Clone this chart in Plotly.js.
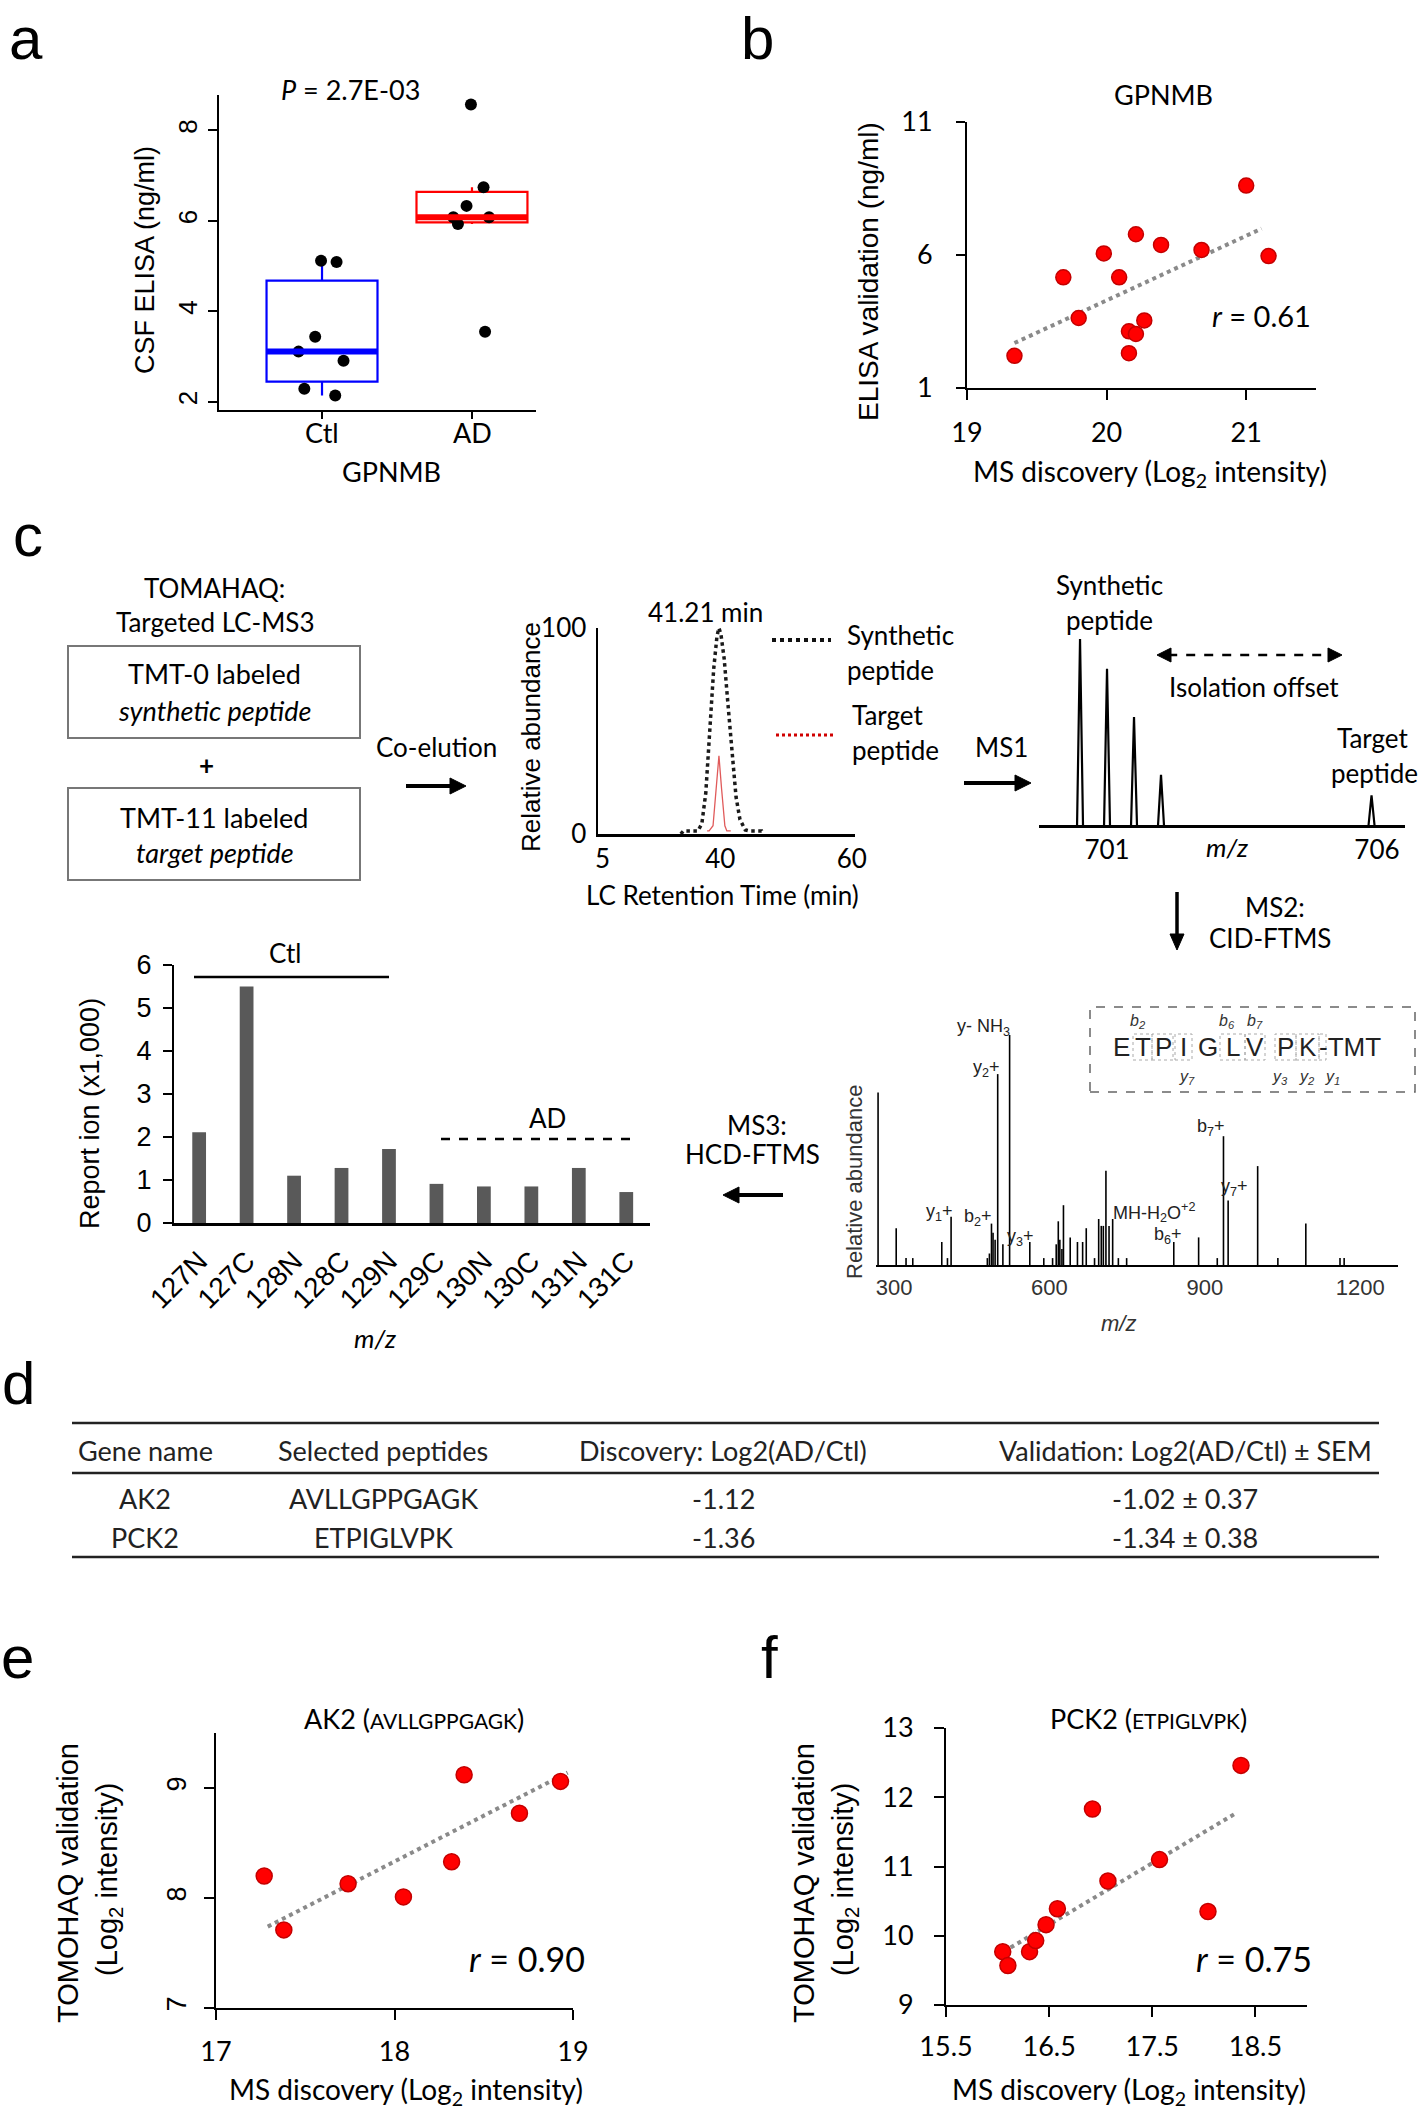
<!DOCTYPE html>
<html><head><meta charset="utf-8">
<script src="https://cdn.plot.ly/plotly-3.0.1.min.js"></script>
<style>html,body{margin:0;padding:0;background:#fff;}#fig{width:1418px;height:2109px;}</style>
</head><body><div id="fig"></div>
<script>
// ================= DATA =================
// (a) CSF ELISA GPNMB
const groupNames = ['Ctl', 'AD'];
const ctlElisa = [5.12, 5.09, 3.44, 3.11, 2.91, 2.29, 2.14];
const adElisa = [8.57, 6.74, 6.33, 6.08, 6.08, 5.93, 3.55];
// (b) GPNMB MS discovery vs ELISA
const bDiscovery = [19.34, 19.69, 19.80, 19.98, 20.09, 20.21, 20.16, 20.21, 20.27, 20.16, 20.39, 20.68, 21.00, 21.16];
const bElisa = [2.21, 5.16, 3.63, 6.06, 5.16, 6.78, 3.13, 3.03, 3.54, 2.31, 6.38, 6.19, 8.61, 5.96];
const bFitX = [19.34, 21.11];
const bFitY = [2.69, 6.99];
// (c) chromatogram
const chromTickVals = [22.1, 40, 60];
const chromTickText = ['5', '40', '60'];
const synthTime = [34.0, 34.4, 36.6, 37.2, 37.8, 38.4, 39.0, 39.5, 39.8, 40.1, 40.6, 41.2, 41.8, 42.4, 43.0, 43.8, 44.4, 46.3, 46.5];
const synthAbund = [0, 1.5, 1.5, 5, 20, 48, 80, 96, 100, 97, 85, 62, 38, 18, 7, 2, 1.5, 1.5, 0];
const targetTime = [38.0, 38.3, 38.9, 39.4, 39.8, 40.2, 40.7, 41.0, 41.6];
const targetAbund = [1.5, 1.5, 4, 22, 38, 22, 4, 1.5, 1.5];
// (c) MS1
const ms1Mz = [700.5, 701.0, 701.5, 702.0, 705.9];
const ms1Int = [100, 84, 58, 27, 16];
const ms1TickVals = [701, 706];
// (c) MS3 reporter ions
const reporterChannels = ['127N', '127C', '128N', '128C', '129N', '129C', '130N', '130C', '131N', '131C'];
const reporterValues = [2.11, 5.50, 1.10, 1.28, 1.72, 0.91, 0.85, 0.85, 1.28, 0.72];
// (c) MS2 spectrum
const ms2Mz = [269, 304, 323, 336, 392, 403, 410, 480, 484, 488, 491, 495, 500, 510, 523, 562, 589, 606, 613, 617, 620, 624, 627, 640, 654, 664, 671, 687, 695, 700, 704, 709, 715, 722, 733, 749, 840, 888, 924, 936, 945, 1002, 1041, 1095, 1161, 1169];
const ms2Int = [75, 16, 3, 3, 10, 3, 21, 3, 5, 18, 14, 11, 83, 9, 100, 10, 3, 3, 9, 19, 11, 7, 26, 12, 10, 10, 16, 3, 20, 17, 17, 41, 17, 20, 3, 3, 10, 12, 3, 56, 28, 43, 3, 18, 3, 3];
const ms2TickVals = [300, 600, 900, 1200];
// (d) table
const tableHeader = ['Gene name', 'Selected peptides', 'Discovery: Log2(AD/Ctl)', 'Validation: Log2(AD/Ctl) ± SEM'];
const geneNames = ['AK2', 'PCK2'];
const peptides = ['AVLLGPPGAGK', 'ETPIGLVPK'];
const discoveryLog2 = ['-1.12', '-1.36'];
const validationLog2 = ['-1.02 ± 0.37', '-1.34 ± 0.38'];
// (e) AK2
const eDiscovery = [17.27, 17.38, 17.74, 18.05, 18.32, 18.39, 18.70, 18.93];
const eTomahaq = [8.20, 7.71, 8.13, 8.01, 8.33, 9.12, 8.77, 9.06];
const eFitX = [17.29, 18.97];
const eFitY = [7.74, 9.14];
// (f) PCK2
const fDiscovery = [16.05, 16.10, 16.31, 16.37, 16.47, 16.58, 16.92, 17.07, 17.57, 18.04, 18.36];
const fTomahaq = [9.77, 9.57, 9.77, 9.93, 10.16, 10.39, 11.83, 10.79, 11.10, 10.35, 12.46];
const fFitX = [16.06, 18.30];
const fFitY = [9.77, 11.76];

// ================= HELPERS =================
const W = 1418, H = 2109;
const X = p => p / W;
const Y = p => 1 - p / H;
const domX = (a, b) => [a / W, b / W];
const domY = (top, bot) => [1 - bot / H, 1 - top / H];
const CAL = 'Lato, "Open Sans", sans-serif';
const ARI = '"Liberation Sans", Arial, sans-serif';
const annotations = [];
const shapes = [];
function txt(text, x, y, size, family, o) {
  o = o || {};
  annotations.push({
    text: text, x: X(x), y: Y(y), xref: 'paper', yref: 'paper', showarrow: false,
    xanchor: o.xanchor || 'center', yanchor: o.yanchor || 'middle',
    textangle: o.angle || 0,
    font: {family: family, size: size, color: o.color || '#000'}
  });
}
function seg(x0, y0, x1, y1, w, color, dash) {
  shapes.push({type: 'line', xref: 'paper', yref: 'paper', x0: X(x0), y0: Y(y0), x1: X(x1), y1: Y(y1),
    line: {color: color || '#000', width: w, dash: dash || 'solid'}});
}
function rectP(x0, y0, x1, y1, w, color, dash) {
  shapes.push({type: 'rect', xref: 'paper', yref: 'paper', x0: X(x0), y0: Y(y1), x1: X(x1), y1: Y(y0),
    line: {color: color, width: w, dash: dash || 'solid'}, fillcolor: 'rgba(0,0,0,0)'});
}
function head(xt, yt, ux, uy, len, hw) {
  const bx = xt - ux * len, by = yt - uy * len;
  const px = -uy, py = ux;
  const pts = [[xt, yt], [bx + px * hw, by + py * hw], [bx - px * hw, by - py * hw]];
  const path = 'M ' + pts.map(p => X(p[0]) + ' ' + Y(p[1])).join(' L ') + ' Z';
  shapes.push({type: 'path', xref: 'paper', yref: 'paper', path: path, fillcolor: '#000', line: {color: '#000', width: 1}});
}
function arrow(x0, y0, x1, y1, w, len, hw, dash, both) {
  const L = Math.hypot(x1 - x0, y1 - y0), ux = (x1 - x0) / L, uy = (y1 - y0) / L;
  const sx = both ? x0 + ux * len * 0.8 : x0, sy = both ? y0 + uy * len * 0.8 : y0;
  seg(sx, sy, x1 - ux * len * 0.8, y1 - uy * len * 0.8, w, '#000', dash);
  head(x1, y1, ux, uy, len, hw);
  if (both) head(x0, y0, -ux, -uy, len, hw);
}
function median(a) { const s = a.slice().sort((p, q) => p - q); const n = s.length; return n % 2 ? s[(n - 1) / 2] : (s[n / 2 - 1] + s[n / 2]) / 2; }

// ================= TRACES =================
const traces = [];
const boxW = 0.74;
traces.push({type: 'box', x: ctlElisa.map(() => groupNames[0]), y: ctlElisa, xaxis: 'x', yaxis: 'y',
  boxpoints: 'all', jitter: 0.5, pointpos: 0, width: boxW, whiskerwidth: 0,
  marker: {color: '#000', size: 12}, line: {color: '#0000ff', width: 2.2}, fillcolor: 'rgba(0,0,0,0)', hoverinfo: 'skip'});
traces.push({type: 'box', x: adElisa.map(() => groupNames[1]), y: adElisa, xaxis: 'x', yaxis: 'y',
  boxpoints: 'all', jitter: 0.5, pointpos: 0, width: boxW, whiskerwidth: 0,
  marker: {color: '#000', size: 12}, line: {color: '#ff0000', width: 2.2}, fillcolor: 'rgba(0,0,0,0)', hoverinfo: 'skip'});

const redMarker = s => ({color: '#ff0000', size: s, line: {color: '#c40000', width: 1.5}});
traces.push({type: 'scatter', mode: 'lines', x: bFitX, y: bFitY, xaxis: 'x2', yaxis: 'y2', line: {color: '#8a8a8a', width: 4, dash: 'dot'}});
traces.push({type: 'scatter', mode: 'markers', x: bDiscovery, y: bElisa, xaxis: 'x2', yaxis: 'y2', marker: redMarker(15)});

traces.push({type: 'scatter', mode: 'lines', x: synthTime, y: synthAbund, xaxis: 'x3', yaxis: 'y3', line: {color: '#1a1a1a', width: 3.5, dash: 'dot'}});
traces.push({type: 'scatter', mode: 'lines', x: targetTime, y: targetAbund, xaxis: 'x3', yaxis: 'y3', line: {color: '#e05a5a', width: 1.3}});

const ms1X = [], ms1Y = [];
ms1Mz.forEach((m, i) => { ms1X.push(m - 0.055, m, m + 0.055, null); ms1Y.push(0, ms1Int[i], 0, null); });
traces.push({type: 'scatter', mode: 'lines', x: ms1X, y: ms1Y, xaxis: 'x4', yaxis: 'y4', line: {color: '#000', width: 2.2}});

traces.push({type: 'bar', x: reporterChannels, y: reporterValues, xaxis: 'x5', yaxis: 'y5', marker: {color: '#595959'}});

const ms2X = [], ms2Y = [];
ms2Mz.forEach((m, i) => { ms2X.push(m, m, null); ms2Y.push(0, ms2Int[i], null); });
traces.push({type: 'scatter', mode: 'lines', x: ms2X, y: ms2Y, xaxis: 'x6', yaxis: 'y6', line: {color: '#000', width: 1.6}});

traces.push({type: 'scatter', mode: 'lines', x: eFitX, y: eFitY, xaxis: 'x7', yaxis: 'y7', line: {color: '#8a8a8a', width: 4, dash: 'dot'}});
traces.push({type: 'scatter', mode: 'markers', x: eDiscovery, y: eTomahaq, xaxis: 'x7', yaxis: 'y7', marker: redMarker(16)});
traces.push({type: 'scatter', mode: 'lines', x: fFitX, y: fFitY, xaxis: 'x8', yaxis: 'y8', line: {color: '#8a8a8a', width: 4, dash: 'dot'}});
traces.push({type: 'scatter', mode: 'markers', x: fDiscovery, y: fTomahaq, xaxis: 'x8', yaxis: 'y8', marker: redMarker(16)});

// thick medians (panel a)
[[ctlElisa, '#0000ff', 0], [adElisa, '#ff0000', 1]].forEach(([arr, c, i]) => {
  const m = median(arr);
  shapes.push({type: 'line', xref: 'x', yref: 'y', x0: i - boxW / 2, x1: i + boxW / 2, y0: m, y1: m, line: {color: c, width: 6}});
});

// ================= AXES =================
const base = {showgrid: false, zeroline: false, showline: true, linecolor: '#000', linewidth: 2,
  ticks: 'outside', tickcolor: '#000', tickwidth: 2, fixedrange: true};
const f = (fam, s, c) => ({family: fam, size: s, color: c || '#000'});
const layout = {
  width: W, height: H, margin: {l: 0, r: 0, t: 0, b: 0}, paper_bgcolor: '#fff', plot_bgcolor: 'rgba(0,0,0,0)',
  showlegend: false, bargap: 0.71,
  xaxis: Object.assign({}, base, {domain: domX(219, 536), anchor: 'y', type: 'category', range: [-0.687, 1.427], ticklen: 7, showticklabels: false}),
  yaxis: Object.assign({}, base, {domain: domY(95, 410), anchor: 'x', range: [1.82, 8.78], tickvals: [2, 4, 6, 8], tickangle: -90, ticklen: 9, tickfont: f(ARI, 26), ticklabelstandoff: 1}),
  xaxis2: Object.assign({}, base, {domain: domX(967, 1316), anchor: 'y2', range: [19, 21.5], tickvals: [19, 20, 21], ticklen: 10, tickfont: f(CAL, 27), ticklabelstandoff: 10}),
  yaxis2: Object.assign({}, base, {domain: domY(122, 388), anchor: 'x2', range: [1, 11], tickvals: [1, 6, 11], ticklen: 9, tickfont: f(CAL, 27), ticklabelstandoff: 18}),
  xaxis3: Object.assign({}, base, {domain: domX(598, 855), anchor: 'y3', range: [21.4, 60.5], tickvals: chromTickVals, ticktext: chromTickText, ticks: '', linewidth: 2.5, tickfont: f(CAL, 26), ticklabelstandoff: 0}),
  yaxis3: Object.assign({}, base, {domain: domY(628, 834), anchor: 'x3', range: [0, 100], tickvals: [0, 100], ticks: '', linewidth: 2.5, tickfont: f(CAL, 26), ticklabelstandoff: 4}),
  xaxis4: Object.assign({}, base, {domain: domX(1039, 1405), anchor: 'y4', range: [699.74, 706.52], tickvals: ms1TickVals, ticks: '', linewidth: 3, tickfont: f(CAL, 26), ticklabelstandoff: 0}),
  yaxis4: {domain: domY(639, 825), anchor: 'x4', range: [0, 100], visible: false, fixedrange: true},
  xaxis5: Object.assign({}, base, {domain: domX(174, 650), anchor: 'y5', type: 'category', range: [-0.53, 9.5], ticks: '', linewidth: 2.5, tickangle: -45, tickfont: f(ARI, 28), ticklabelstandoff: 8}),
  yaxis5: Object.assign({}, base, {domain: domY(965, 1223), anchor: 'x5', range: [0, 6], dtick: 1, ticklen: 9, tickfont: f(ARI, 27), ticklabelstandoff: 6}),
  xaxis6: Object.assign({}, base, {domain: domX(876, 1398), anchor: 'y6', range: [265, 1273], tickvals: ms2TickVals, ticks: '', linewidth: 1.6, tickfont: f(ARI, 22, '#333'), ticklabelstandoff: 2}),
  yaxis6: {domain: domY(1035, 1265), anchor: 'x6', range: [0, 100], visible: false, fixedrange: true},
  xaxis7: Object.assign({}, base, {domain: domX(216, 573), anchor: 'y7', range: [17, 19], tickvals: [17, 18, 19], ticklen: 10, tickfont: f(CAL, 27), ticklabelstandoff: 9}),
  yaxis7: Object.assign({}, base, {domain: domY(1733, 2008), anchor: 'x7', range: [7, 9.5], tickvals: [7, 8, 9], tickangle: -90, ticklen: 10, tickfont: f(ARI, 27), ticklabelstandoff: 7}),
  xaxis8: Object.assign({}, base, {domain: domX(946, 1307), anchor: 'y8', range: [15.5, 19], tickvals: [15.5, 16.5, 17.5, 18.5], ticklen: 10, tickfont: f(CAL, 27), ticklabelstandoff: 7}),
  yaxis8: Object.assign({}, base, {domain: domY(1728, 2005), anchor: 'x8', range: [9, 13], tickvals: [9, 10, 11, 12, 13], ticklen: 10, tickfont: f(CAL, 27), ticklabelstandoff: 15}),
  annotations: annotations, shapes: shapes
};

// ================= TEXT & DECORATION =================
// panel letters
txt('a', 26, 38, 60, ARI); txt('b', 758, 38, 60, ARI); txt('c', 28, 535, 60, ARI);
txt('d', 18, 1383, 60, ARI); txt('e', 17, 1657, 60, ARI); txt('f', 769, 1657, 60, ARI);

// (a)
txt('<i>P</i> = 2.7E-03', 350, 90, 27, CAL);
txt(groupNames[0], 322, 433, 27, CAL);
txt(groupNames[1], 472, 433, 27, CAL);
txt('GPNMB', 391, 472, 27, CAL);
txt('CSF ELISA (ng/ml)', 145, 260, 27, ARI, {angle: -90});
// (b)
txt('GPNMB', 1163, 95, 27, CAL);
txt('MS discovery (Log<sub>2</sub> intensity)', 1150, 473, 28, CAL);
txt('ELISA validation (ng/ml)', 869, 272, 28, ARI, {angle: -90});
txt('<i>r</i> = 0.61', 1261, 315, 29, CAL);

// (c) workflow top-left
txt('TOMAHAQ:', 215, 588, 26, CAL);
txt('Targeted LC-MS3', 215, 622, 26, CAL);
rectP(68, 646, 360, 738, 2, '#777');
txt('TMT-0 labeled', 215, 673, 27, CAL);
txt('<i>synthetic peptide</i>', 215, 710, 27, CAL);
txt('<b>+</b>', 206, 765, 26, CAL);
rectP(68, 788, 360, 880, 2, '#777');
txt('TMT-11 labeled', 215, 817, 27, CAL);
txt('<i>target peptide</i>', 215, 852, 27, CAL);
txt('Co-elution', 436, 747, 26, CAL);
arrow(406, 786, 466, 786, 4, 16, 8);

// chromatogram
txt('41.21 min', 705, 612, 26, CAL);
txt('Relative abundance', 531, 737, 26, ARI, {angle: -90});
txt('LC Retention Time (min)', 722, 895, 26, CAL);
seg(772, 640, 831, 640, 4, '#111', 'dot');
txt('Synthetic', 845, 635, 26, CAL, {xanchor: 'left'});
txt('peptide', 845, 670, 26, CAL, {xanchor: 'left'});
seg(776, 735, 836, 735, 3, '#d00000', 'dot');
txt('Target', 850, 715, 26, CAL, {xanchor: 'left'});
txt('peptide', 850, 750, 26, CAL, {xanchor: 'left'});

// MS1
txt('MS1', 1001, 747, 26, CAL);
arrow(964, 783, 1031, 783, 4, 16, 8);
txt('Synthetic', 1109, 585, 26, CAL);
txt('peptide', 1109, 620, 26, CAL);
arrow(1157, 655, 1342, 655, 2.5, 14, 7, 'dash', true);
txt('Isolation offset', 1254, 687, 26, CAL);
txt('Target', 1372, 738, 26, CAL);
txt('peptide', 1374, 773, 26, CAL);
txt('<i>m/z</i>', 1227, 847, 26, CAL);
arrow(1177, 892, 1177, 950, 3.5, 16, 7);
txt('MS2:', 1275, 907, 26, CAL);
txt('CID-FTMS', 1270, 938, 26, CAL);

// MS2 spectrum annotations
txt('Relative abundance', 854, 1182, 22, ARI, {angle: -90, color: '#333'});
txt('<i>m/z</i>', 1118, 1323, 22, ARI, {color: '#333'});
const s2 = (t, x, y) => txt(t, x, y, 18, ARI, {color: '#222'});
s2('y- NH<sub>3</sub>', 983, 1027);
s2('y<sub>2</sub>+', 986, 1068);
s2('y<sub>1</sub>+', 939, 1212);
s2('b<sub>2</sub>+', 978, 1217);
s2('y<sub>3</sub>+', 1020, 1237);
s2('MH-H<sub>2</sub>O<sup>+2</sup>', 1154, 1212);
s2('b<sub>6</sub>+', 1168, 1235);
s2('b<sub>7</sub>+', 1211, 1127);
s2('y<sub>7</sub>+', 1234, 1187);
rectP(1090, 1007, 1415, 1092, 1.5, '#666', 'dash');
const seqLetters = ['E', 'T', 'P', 'I', 'G', 'L', 'V', 'P', 'K', '-TMT'];
const seqPos = [1121, 1143, 1163, 1183, 1208, 1233, 1255, 1285, 1308, 1350];
[[1133, 1152], [1152, 1173], [1175, 1192], [1220, 1245], [1245, 1265], [1275, 1296], [1296, 1319], [1319, 1326]].forEach(([a, b]) => rectP(a, 1034, b, 1060, 1, '#aaa', 'dot'));
seqLetters.forEach((l, i) => txt(l, seqPos[i], 1047, 26, ARI, {color: '#222'}));
const fr = (t, x, y) => txt('<i>' + t + '</i>', x, y, 16, ARI, {color: '#333'});
fr('b<sub>2</sub>', 1138, 1021); fr('b<sub>6</sub>', 1227, 1021); fr('b<sub>7</sub>', 1255, 1021);
fr('y<sub>7</sub>', 1187, 1077); fr('y<sub>3</sub>', 1280, 1077); fr('y<sub>2</sub>', 1307, 1077); fr('y<sub>1</sub>', 1332, 1077);

// MS3
txt('MS3:', 757, 1125, 26, CAL);
txt('HCD-FTMS', 753, 1154, 26, CAL);
arrow(783, 1195, 723, 1195, 4, 16, 8);

// bar chart
txt('Report ion (x1,000)', 90, 1114, 27, ARI, {angle: -90});
txt('Ctl', 285, 953, 26, CAL);
seg(194, 977, 389, 977, 2.5);
txt('AD', 547, 1118, 26, CAL);
seg(441, 1139, 637, 1139, 2.5, '#000', 'dash');
txt('<i>m/z</i>', 375, 1338, 26, CAL);

// (d) table
seg(72, 1423, 1379, 1423, 2.5, '#222');
seg(72, 1473, 1379, 1473, 2.5, '#222');
seg(72, 1557, 1379, 1557, 2.5, '#222');
const colX = [145, 383, 723, 1185];
tableHeader.forEach((h, i) => txt(h, colX[i], 1450, 27, CAL, {color: '#222'}));
const rowY = [1498, 1537];
geneNames.forEach((g, r) => {
  txt(g, colX[0], rowY[r], 27, CAL, {color: '#222'});
  txt(peptides[r], colX[1], rowY[r], 27, CAL, {color: '#222'});
  txt(discoveryLog2[r], colX[2], rowY[r], 27, CAL, {color: '#222'});
  txt(validationLog2[r], colX[3], rowY[r], 27, CAL, {color: '#222'});
});

// (e)
txt('AK2 (<span style="font-size:21px">AVLLGPPGAGK</span>)', 414, 1718, 27, CAL);
txt('MS discovery (Log<sub>2</sub> intensity)', 406, 2091, 28, CAL);
txt('TOMOHAQ validation', 68, 1883, 29, ARI, {angle: -90});
txt('(Log<sub>2</sub> intensity)', 109, 1880, 29, ARI, {angle: -90});
txt('<i>r</i> = 0.90', 527, 1958, 34, CAL);
// (f)
txt('PCK2 (<span style="font-size:21px">ETPIGLVPK</span>)', 1148, 1718, 27, CAL);
txt('MS discovery (Log<sub>2</sub> intensity)', 1129, 2091, 28, CAL);
txt('TOMOHAQ validation', 804, 1883, 29, ARI, {angle: -90});
txt('(Log<sub>2</sub> intensity)', 845, 1880, 29, ARI, {angle: -90});
txt('<i>r</i> = 0.75', 1254, 1958, 34, CAL);

Plotly.newPlot('fig', traces, layout, {staticPlot: true, displayModeBar: false});
</script>
</body></html>
